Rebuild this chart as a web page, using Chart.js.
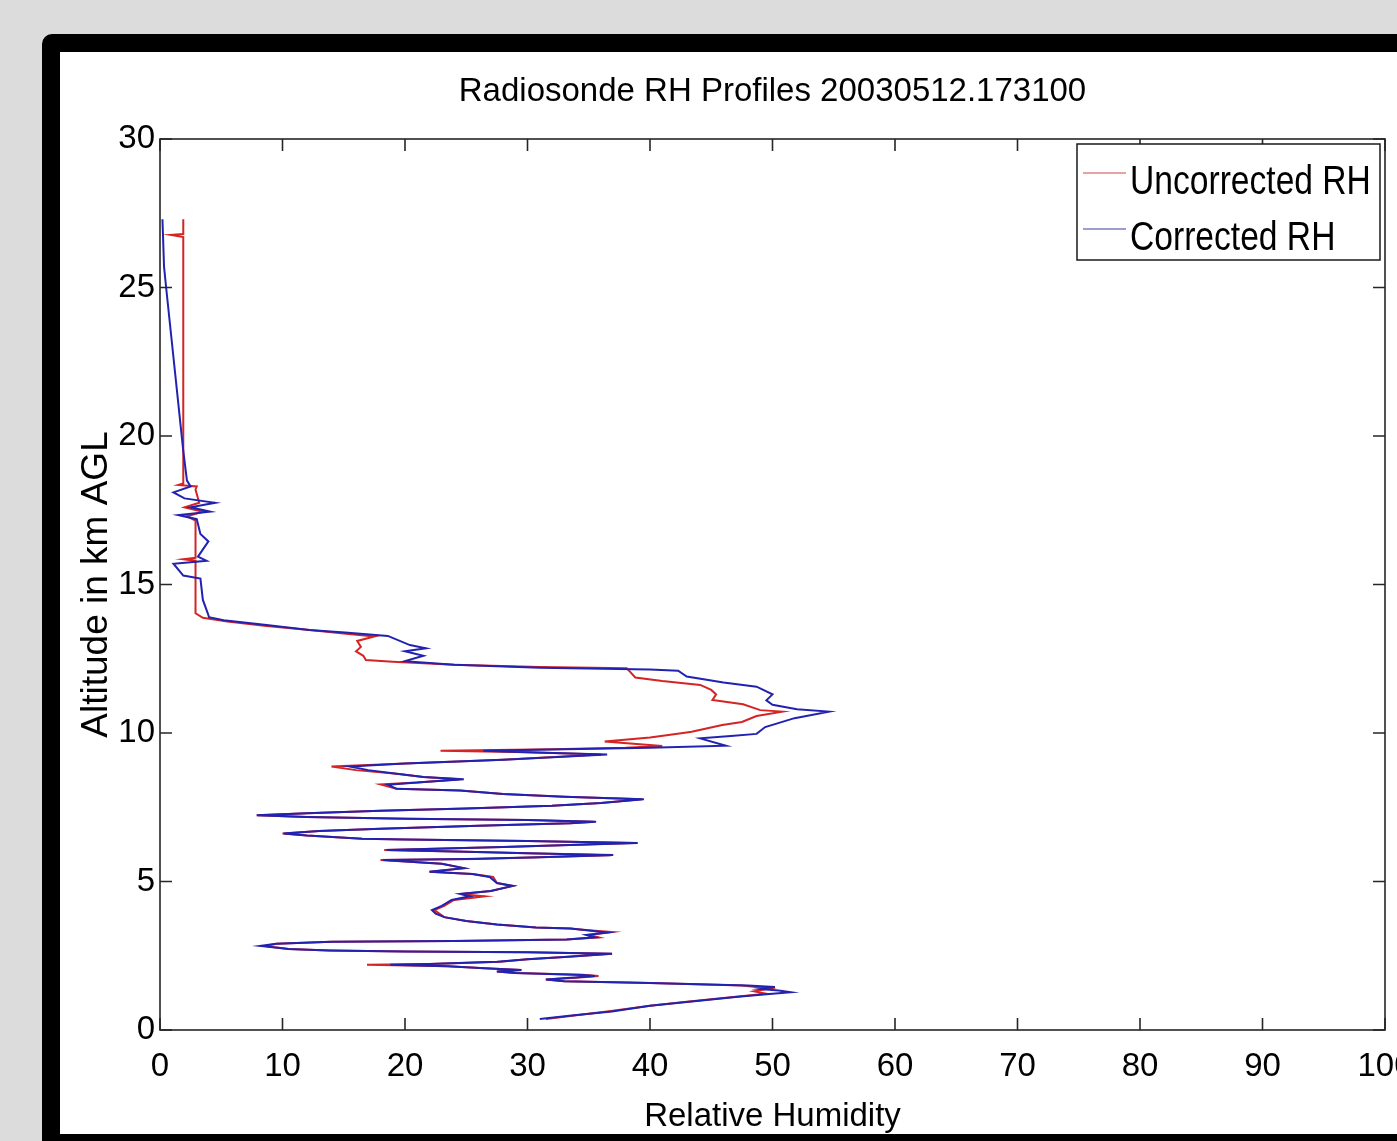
<!DOCTYPE html>
<html>
<head>
<meta charset="utf-8">
<title>Radiosonde RH Profiles</title>
<script src="https://cdn.jsdelivr.net/npm/chart.js@4.4.1/dist/chart.umd.min.js"></script>
<style>
    html, body {
        margin: 0;
        padding: 0;
        width: 1397px;
        height: 1141px;
        overflow: hidden;
        background: #dcdcdc;
    }
    /* black rounded frame around the figure, runs off the right and bottom edges */
    .frame {
        position: absolute;
        left: 42px;
        top: 34px;
        width: 1420px;
        height: 1118px;
        border: 18px solid #000;
        border-radius: 10px;
        background: #fff;
        box-sizing: border-box;
        overflow: hidden;
    }
    .chart-box {
        position: absolute;
        left: 0;
        top: 0;
        width: 1370px;
        height: 1090px;
    }
</style>
</head>
<body>
<div class="frame">
    <div class="chart-box"><canvas id="rhChart"></canvas></div>
</div>
<script>
// Profile data (RH in %, altitude in km AGL)
const uncorrectedRH = [
    31.5, 34.0, 36.5, 40.0, 43.0, 47.0, 49.5, 48.5, 49.8, 47.5,
    40.0, 33.0, 31.5, 34.0, 35.8, 34.5, 29.0, 27.5, 29.5, 26.5,
    23.5, 16.9, 22.0, 26.0, 27.8, 30.0, 33.0, 36.9, 30.0, 20.0,
    13.8, 10.5, 8.6, 9.5, 14.0, 24.0, 33.2, 35.8, 35.0, 36.9,
    35.0, 33.5, 30.7, 27.5, 25.0, 23.2, 22.8, 22.4, 23.2, 24.0,
    26.5, 24.5, 27.0, 28.8, 27.5, 27.2, 25.5, 22.0, 24.8, 23.0,
    18.0, 25.9, 31.0, 36.8, 30.0, 25.0, 18.3, 28.0, 38.7, 30.0,
    20.0, 16.5, 12.0, 10.0, 13.0, 18.0, 26.0, 33.5, 35.4, 30.0,
    20.1, 12.0, 7.9, 12.0, 18.0, 25.0, 32.0, 36.0, 39.3, 33.0,
    28.0, 24.5, 19.3, 18.0, 21.0, 24.5, 21.5, 19.5, 16.0, 14.0,
    20.0, 28.0, 36.0, 30.0, 22.9, 32.0, 38.0, 41.0, 36.3, 40.0,
    42.7, 43.4, 45.9, 47.5, 48.7, 50.8, 49.0, 47.6, 45.1, 45.4,
    45.0, 44.1, 41.0, 38.8, 38.4, 38.1, 31.0, 24.0, 19.0, 16.8,
    16.6, 16.0, 16.4, 16.1, 17.5, 15.0, 12.2, 8.7, 5.5, 3.5,
    2.9, 2.9, 1.9, 2.9, 2.9, 2.2, 3.5, 2.0, 3.2, 2.9,
    3.0, 1.5, 1.9, 1.9, 0.9, 1.9, 1.9
];
const uncorrectedAlt = [
    0.37, 0.5, 0.62, 0.82, 0.95, 1.12, 1.22, 1.3, 1.4, 1.5,
    1.58, 1.64, 1.7, 1.76, 1.82, 1.86, 1.92, 1.97, 2.02, 2.08,
    2.15, 2.2, 2.22, 2.27, 2.3, 2.38, 2.46, 2.57, 2.62, 2.64,
    2.68, 2.73, 2.83, 2.9, 2.97, 3.0, 3.05, 3.12, 3.2, 3.3,
    3.36, 3.42, 3.45, 3.55, 3.67, 3.8, 3.92, 4.04, 4.18, 4.38,
    4.5, 4.58, 4.68, 4.85, 4.95, 5.15, 5.25, 5.33, 5.45, 5.6,
    5.72, 5.76, 5.82, 5.88, 5.95, 6.0, 6.06, 6.16, 6.3, 6.36,
    6.41, 6.44, 6.55, 6.62, 6.7, 6.78, 6.88, 6.96, 7.01, 7.07,
    7.11, 7.17, 7.23, 7.3, 7.38, 7.46, 7.55, 7.64, 7.77, 7.85,
    7.95, 8.06, 8.12, 8.27, 8.33, 8.44, 8.52, 8.62, 8.75, 8.87,
    8.97, 9.1, 9.28, 9.35, 9.4, 9.45, 9.5, 9.56, 9.71, 9.85,
    10.0, 10.04, 10.27, 10.37, 10.57, 10.72, 10.77, 10.97, 11.11, 11.3,
    11.45, 11.62, 11.75, 11.87, 12.05, 12.18, 12.22, 12.3, 12.4, 12.46,
    12.6, 12.75, 12.9, 13.1, 13.25, 13.35, 13.47, 13.6, 13.75, 13.88,
    14.03, 15.8, 15.85, 15.9, 17.15, 17.3, 17.45, 17.6, 17.75, 18.2,
    18.3, 18.35, 18.4, 26.7, 26.77, 26.8, 27.3
];

const correctedRH = [
    31.0, 33.8, 36.9, 40.0, 43.2, 47.2, 49.5, 51.5, 50.5, 49.0,
    50.2, 48.0, 40.0, 33.0, 31.5, 33.5, 35.5, 34.5, 29.0, 27.5,
    29.5, 26.5, 23.5, 18.8, 22.0, 25.5, 27.5, 30.0, 33.0, 36.9,
    30.0, 20.0, 13.8, 10.5, 8.2, 9.5, 14.0, 24.0, 33.2, 35.5,
    34.8, 36.5, 35.0, 33.5, 30.7, 27.5, 25.0, 23.2, 22.5, 22.2,
    23.0, 23.8, 25.3, 24.5, 27.0, 28.8, 27.5, 26.9, 25.5, 22.0,
    24.8, 23.0, 18.2, 25.0, 31.0, 37.0, 30.0, 25.0, 18.5, 28.0,
    39.0, 30.0, 20.0, 16.5, 12.0, 10.1, 13.0, 18.0, 26.0, 33.5,
    35.6, 30.0, 20.1, 12.0, 7.9, 12.0, 18.0, 25.0, 32.0, 36.0,
    39.5, 33.0, 28.0, 24.5, 19.3, 18.6, 21.0, 24.8, 21.5, 19.5,
    17.0, 15.5, 20.0, 28.0, 36.5, 30.0, 26.4, 33.0, 40.0, 46.2,
    44.1, 46.6, 48.7, 49.4, 51.8, 54.6, 52.0, 50.0, 49.5, 50.0,
    48.7, 46.0, 43.0, 42.3, 40.0, 31.0, 24.0, 20.0, 21.5, 20.0,
    21.7, 20.4, 18.6, 15.1, 12.2, 8.7, 5.2, 4.0, 3.9, 3.5,
    3.3, 1.9, 1.1, 3.8, 3.1, 3.95, 3.3, 3.0, 1.5, 4.1,
    2.5, 4.5, 2.0, 1.1, 2.5, 2.2, 1.9, 0.5, 0.33, 0.2
];
const correctedAlt = [
    0.37, 0.5, 0.62, 0.82, 0.95, 1.12, 1.2, 1.27, 1.33, 1.38,
    1.45, 1.5, 1.58, 1.64, 1.7, 1.76, 1.82, 1.85, 1.92, 1.97,
    2.02, 2.08, 2.15, 2.2, 2.22, 2.27, 2.3, 2.38, 2.46, 2.57,
    2.62, 2.64, 2.68, 2.73, 2.83, 2.9, 2.97, 3.0, 3.05, 3.12,
    3.2, 3.28, 3.35, 3.42, 3.45, 3.55, 3.67, 3.8, 3.92, 4.04,
    4.18, 4.38, 4.5, 4.58, 4.68, 4.85, 4.95, 5.15, 5.25, 5.33,
    5.45, 5.6, 5.72, 5.76, 5.82, 5.89, 5.95, 6.0, 6.06, 6.16,
    6.3, 6.36, 6.41, 6.44, 6.55, 6.62, 6.7, 6.78, 6.88, 6.96,
    7.01, 7.07, 7.11, 7.17, 7.23, 7.3, 7.38, 7.46, 7.55, 7.64,
    7.77, 7.85, 7.95, 8.06, 8.12, 8.26, 8.33, 8.44, 8.52, 8.62,
    8.75, 8.87, 8.97, 9.1, 9.28, 9.35, 9.4, 9.45, 9.5, 9.57,
    9.82, 9.9, 9.97, 10.2, 10.5, 10.72, 10.8, 10.95, 11.1, 11.3,
    11.56, 11.7, 11.9, 12.1, 12.14, 12.2, 12.3, 12.42, 12.6, 12.75,
    12.85, 12.96, 13.27, 13.38, 13.47, 13.64, 13.8, 13.9, 14.03, 14.48,
    15.2, 15.3, 15.7, 15.8, 15.94, 16.45, 16.7, 17.2, 17.34, 17.45,
    17.6, 17.75, 17.9, 18.1, 18.3, 18.5, 19.5, 25.0, 25.7, 27.3
];

const xTicks = [0, 10, 20, 30, 40, 50, 60, 70, 80, 90, 100];
const yTicks = [0, 5, 10, 15, 20, 25, 30];
const seriesNames = ['Uncorrected RH', 'Corrected RH'];

const FONT = '"Liberation Sans", Arial, Helvetica, sans-serif';
const TICK_LEN = 12;

function toPoints(rh, alt) {
    if (rh.length !== alt.length) {
        console.warn('length mismatch', rh.length, alt.length);
    }
    return alt.map((a, i) => ({ x: rh[i], y: a }));
}

// MATLAB-style box with inward ticks on all four sides
const matlabAxes = {
    id: 'matlabAxes',
    afterDatasetsDraw(chart) {
        const { ctx, chartArea: area, scales } = chart;
        ctx.save();
        ctx.strokeStyle = '#262626';
        ctx.lineWidth = 1.6;
        ctx.beginPath();
        xTicks.forEach(v => {
            const px = scales.x.getPixelForValue(v);
            ctx.moveTo(px, area.bottom);
            ctx.lineTo(px, area.bottom - TICK_LEN);
            ctx.moveTo(px, area.top);
            ctx.lineTo(px, area.top + TICK_LEN);
        });
        yTicks.forEach(v => {
            const py = scales.y.getPixelForValue(v);
            ctx.moveTo(area.left, py);
            ctx.lineTo(area.left + TICK_LEN, py);
            ctx.moveTo(area.right, py);
            ctx.lineTo(area.right - TICK_LEN, py);
        });
        ctx.stroke();
        ctx.strokeRect(area.left, area.top, area.right - area.left, area.bottom - area.top);
        ctx.restore();
    }
};

// boxed legend in the upper right corner of the axes
const boxedLegend = {
    id: 'boxedLegend',
    afterDraw(chart) {
        const { ctx, chartArea: area } = chart;
        const w = 303, h = 116;
        const left = area.right - 5 - w;
        const top = area.top + 5;
        ctx.save();
        ctx.fillStyle = '#fff';
        ctx.fillRect(left, top, w, h);
        ctx.strokeStyle = '#1a1a1a';
        ctx.lineWidth = 1.5;
        ctx.strokeRect(left, top, w, h);

        chart.data.datasets.forEach((ds, i) => {
            const lineY = top + 29 + i * 56;
            ctx.strokeStyle = ds.legendColor;
            ctx.lineWidth = 1.2;
            ctx.beginPath();
            ctx.moveTo(left + 6, lineY);
            ctx.lineTo(left + 49, lineY);
            ctx.stroke();

            // text is a bit condensed in the original
            ctx.save();
            ctx.translate(left + 53, top + 50 + i * 56);
            ctx.scale(0.84, 1);
            ctx.fillStyle = '#000';
            ctx.font = '40px ' + FONT;
            ctx.textBaseline = 'alphabetic';
            ctx.fillText(ds.label, 0, 0);
            ctx.restore();
        });
        ctx.restore();
    }
};

const ctx = document.getElementById('rhChart');

new Chart(ctx, {
    type: 'scatter',
    data: {
        datasets: [
            {
                label: seriesNames[0],
                data: toPoints(uncorrectedRH, uncorrectedAlt),
                borderColor: '#d42424',
                legendColor: '#d04848',
                borderWidth: 2,
                showLine: true,
                pointRadius: 0,
                tension: 0,
                order: 1
            },
            {
                label: seriesNames[1],
                data: toPoints(correctedRH, correctedAlt),
                borderColor: '#2222b0',
                legendColor: '#3a3aa0',
                borderWidth: 2,
                showLine: true,
                pointRadius: 0,
                tension: 0,
                order: 0
            }
        ]
    },
    options: {
        responsive: true,
        maintainAspectRatio: false,
        animation: false,
        layout: {
            padding: { left: 0, right: 45, top: 0, bottom: 0 }
        },
        plugins: {
            legend: { display: false },
            tooltip: { enabled: false },
            title: {
                display: true,
                text: 'Radiosonde RH Profiles 20030512.173100',
                color: '#000',
                fullSize: false,
                font: { family: FONT, size: 33, weight: 'normal' },
                padding: { top: 20, bottom: 27.4 }
            }
        },
        scales: {
            x: {
                type: 'linear',
                min: 0,
                max: 100,
                grid: { display: false, drawTicks: false },
                border: { display: false },
                ticks: {
                    stepSize: 10,
                    color: '#000',
                    padding: 17,
                    maxRotation: 0,
                    font: { family: FONT, size: 33 }
                },
                title: {
                    display: true,
                    text: 'Relative Humidity',
                    color: '#000',
                    font: { family: FONT, size: 33 },
                    padding: { top: 0, bottom: 5 }
                },
                afterFit(scale) {
                    scale.height = 112;
                }
            },
            y: {
                type: 'linear',
                min: 0,
                max: 30,
                grid: { display: false, drawTicks: false },
                border: { display: false },
                ticks: {
                    stepSize: 5,
                    color: '#000',
                    padding: 5,
                    font: { family: FONT, size: 33 }
                },
                title: {
                    display: true,
                    text: 'Altitude in km AGL',
                    color: '#000',
                    font: { family: FONT, size: 37 },
                    padding: { top: 15, bottom: 0 }
                },
                afterFit(scale) {
                    scale.width = 100;
                }
            }
        }
    },
    plugins: [matlabAxes, boxedLegend]
});
</script>
</body>
</html>
